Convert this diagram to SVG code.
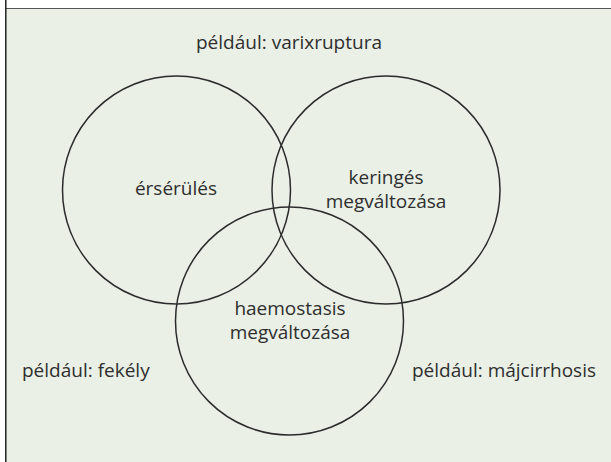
<svg xmlns="http://www.w3.org/2000/svg" width="611" height="462" viewBox="0 0 611 462">
<style>
.bg{fill:#eaf0e6}
.c{fill:none;stroke:#2b2b2b;stroke-width:1.5}
.t{font-family:"Open Sans","Noto Sans",sans-serif;font-size:19px;fill:#2e2e2e;text-anchor:middle}
.l{text-anchor:start}
</style>
<rect x="0" y="0" width="611" height="462" fill="#ffffff"/>
<rect class="bg" x="6" y="8.5" width="605" height="454"/>
<line x1="6" y1="8.5" x2="611" y2="8.5" stroke="#555" stroke-width="1.2"/>
<line x1="5.8" y1="0" x2="5.8" y2="462" stroke="#222" stroke-width="1.5"/>
<g id="circles">
<g id="node-ersereles"><circle class="c" cx="176.5" cy="190" r="114"/><text class="t" x="176" y="195">érsérülés</text></g>
<g id="node-keringes"><circle class="c" cx="386" cy="190" r="114"/><text class="t" x="386" y="184">keringés</text><text class="t" x="386" y="208">megváltozása</text></g>
<g id="node-haemostasis"><circle class="c" cx="289.5" cy="321" r="114"/><text class="t" x="290" y="315">haemostasis</text><text class="t" x="290" y="339">megváltozása</text></g>
</g>
<g id="labels">
<text class="t" x="289" y="49">például: varixruptura</text>
<text class="t l" x="22" y="377">például: fekély</text>
<text class="t l" x="412" y="377">például: májcirrhosis</text>
</g>
</svg>
